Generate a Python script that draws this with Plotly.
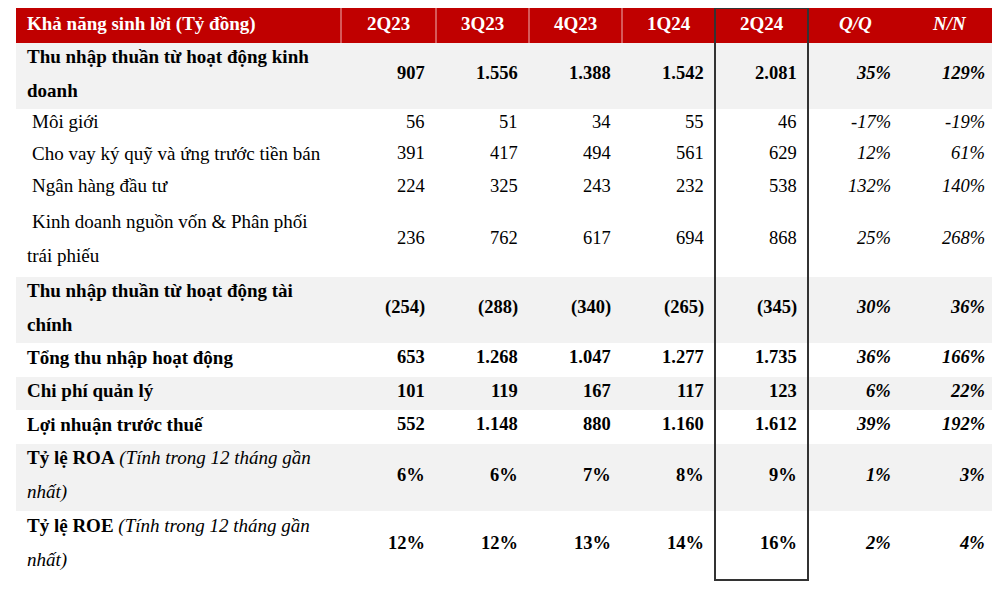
import plotly.graph_objects as go

header_title = "Khả năng sinh lời (Tỷ đồng)"
quarters = ["2Q23", "3Q23", "4Q23", "1Q24", "2Q24"]
change_cols = ["Q/Q", "N/N"]

row_labels = [
    ["Thu nhập thuần từ hoạt động kinh", "doanh"],
    ["Môi giới"],
    ["Cho vay ký quỹ và ứng trước tiền bán"],
    ["Ngân hàng đầu tư"],
    ["Kinh doanh nguồn vốn & Phân phối", "trái phiếu"],
    ["Thu nhập thuần từ hoạt động tài", "chính"],
    ["Tổng thu nhập hoạt động"],
    ["Chi phí quản lý"],
    ["Lợi nhuận trước thuế"],
    ["<b>Tỷ lệ ROA</b> <i>(Tính trong 12 tháng gần</i>", "<i>nhất)</i>"],
    ["<b>Tỷ lệ ROE</b> <i>(Tính trong 12 tháng gần</i>", "<i>nhất)</i>"],
]
bold_rows = [True, False, False, False, False, True, True, True, True, True, True]

v_2q23 = ["907", "56", "391", "224", "236", "(254)", "653", "101", "552", "6%", "12%"]
v_3q23 = ["1.556", "51", "417", "325", "762", "(288)", "1.268", "119", "1.148", "6%", "12%"]
v_4q23 = ["1.388", "34", "494", "243", "617", "(340)", "1.047", "167", "880", "7%", "13%"]
v_1q24 = ["1.542", "55", "561", "232", "694", "(265)", "1.277", "117", "1.160", "8%", "14%"]
v_2q24 = ["2.081", "46", "629", "538", "868", "(345)", "1.735", "123", "1.612", "9%", "16%"]
v_qoq = ["35%", "-17%", "12%", "132%", "25%", "30%", "36%", "6%", "39%", "1%", "2%"]
v_yoy = ["129%", "-19%", "61%", "140%", "268%", "36%", "166%", "22%", "192%", "3%", "4%"]

value_cols = [v_2q23, v_3q23, v_4q23, v_1q24, v_2q24, v_qoq, v_yoy]

# ---- layout (axis units = page pixels) ----
col_edges = [16, 341, 436, 529, 622, 715, 808, 902, 996]
header_top, header_bottom = 8, 43
row_heights = [66, 31, 32, 33, 72, 66, 34, 33, 34, 67, 69]
shaded_rows = [0, 5, 7, 9]
line_gap = 17
label_x = 25
indent_x = 30
cell_pad = 9
text_dy = -3
page_off = 8  # body margin of the page

FONT = "Liberation Serif, Times New Roman, serif"
RED = "#C00000"
SHADE = "#F2F2F2"

fig = go.Figure()
fig.add_trace(go.Scatter(x=[20, 990], y=[20, 590], mode="markers",
                         marker=dict(opacity=0), hoverinfo="skip", showlegend=False))

shapes = []
annotations = []

def add_text(x, y, text, anchor, color="black", size=19):
    annotations.append(dict(x=x, y=y + text_dy, xref="x", yref="y", text=text,
                            showarrow=False, xanchor=anchor, yanchor="middle",
                            font=dict(family=FONT, size=size, color=color)))

# header band
shapes.append(dict(type="rect", xref="x", yref="y", x0=col_edges[0], x1=col_edges[-1],
                   y0=header_top, y1=header_bottom, fillcolor=RED, line_width=0, layer="below"))
for xe in col_edges[1:5]:
    shapes.append(dict(type="line", xref="x", yref="y", x0=xe, x1=xe, y0=header_top,
                       y1=header_bottom, line=dict(color="rgba(255,255,255,0.7)", width=1)))

hy = (header_top + header_bottom) / 2 + 1
add_text(label_x, hy, "<b>" + header_title + "</b>", "left", "white")
for i, q in enumerate(quarters):
    add_text((col_edges[i + 1] + col_edges[i + 2]) / 2, hy, "<b>" + q + "</b>", "center", "white")
for i, c in enumerate(change_cols):
    add_text((col_edges[i + 6] + col_edges[i + 7]) / 2, hy, "<b><i>" + c + "</i></b>", "center", "white")

# body rows
y = header_bottom
for r, h in enumerate(row_heights):
    y0, y1 = y, y + h
    yc = (y0 + y1) / 2
    if r in shaded_rows:
        shapes.append(dict(type="rect", xref="x", yref="y", x0=col_edges[0], x1=col_edges[-1],
                           y0=y0, y1=y1, fillcolor=SHADE, line_width=0, layer="below"))
    lines = row_labels[r]
    bold = bold_rows[r]
    n = len(lines)
    for k, ln in enumerate(lines):
        ly = yc + (k - (n - 1) / 2) * 2 * line_gap
        txt = ln
        if bold and "<b>" not in ln and "<i>" not in ln:
            txt = "<b>" + ln + "</b>"
        lx = indent_x if (not bold and k == 0) else label_x
        add_text(lx, ly, txt, "left")
    for c, col in enumerate(value_cols):
        txt = col[r]
        if c >= 5:
            txt = "<i>" + txt + "</i>"
        if bold:
            txt = "<b>" + txt + "</b>"
        add_text(col_edges[c + 2] - cell_pad, yc, txt, "right", size=18.5)
    y = y1

# highlight box around latest quarter
shapes.append(dict(type="rect", xref="x", yref="y", x0=col_edges[5], x1=col_edges[6],
                   y0=header_top, y1=y, line=dict(color="#333333", width=2),
                   fillcolor="rgba(0,0,0,0)", layer="above"))

fig.update_layout(
    width=1000, height=603,
    margin=dict(l=0, r=0, t=0, b=0),
    paper_bgcolor="white", plot_bgcolor="white",
    xaxis=dict(range=[page_off, 1000 + page_off], visible=False, fixedrange=True),
    yaxis=dict(range=[603 + page_off, page_off], visible=False, fixedrange=True),
    shapes=shapes, annotations=annotations, showlegend=False,
)

fig.write_html("out.html")
